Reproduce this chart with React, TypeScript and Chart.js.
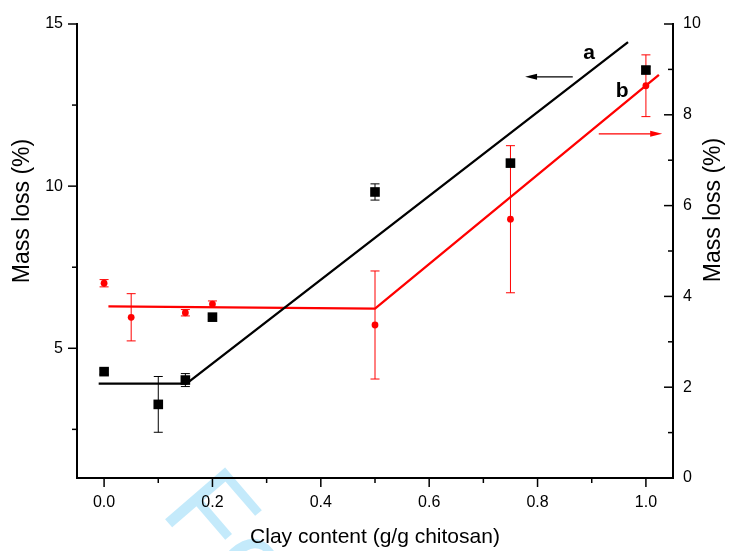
import React, { useEffect, useRef } from "react";
import { Chart, registerables } from "chart.js";

Chart.register(...registerables);

// ---- axis ticks ----
const xTickValues = [0, 0.2, 0.4, 0.6, 0.8, 1.0];
const xMinorValues = [0.1, 0.3, 0.5, 0.7, 0.9];
const leftTickValues = [5, 10, 15];
const leftMinorValues = [2.5, 7.5, 12.5];
const rightTickValues = [0, 2, 4, 6, 8, 10];
const rightMinorValues = [1, 3, 5, 7, 9];

// ---- series a (black squares, left axis) ----
const clayA = [0, 0.1, 0.15, 0.2, 0.5, 0.75, 1.0];
const massLossA = [4.28, 3.27, 4.02, 5.96, 9.82, 10.71, 13.58];
const errA = [0.08, 0.86, 0.2, 0.08, 0.25, 0.1, 0.1];

// ---- series b (red circles, right axis) ----
const clayB = [0, 0.05, 0.15, 0.2, 0.5, 0.75, 1.0];
const massLossB = [4.29, 3.54, 3.64, 3.83, 3.37, 5.7, 8.64];
const errB = [0.08, 0.52, 0.07, 0.07, 1.19, 1.62, 0.68];

// ---- fitted lines ----
const fitAx = [-0.01, 0.152, 0.967];
const fitAy = [3.91, 3.91, 14.44];
const fitBx = [0.008, 0.5, 1.024];
const fitBy = [3.78, 3.73, 8.88];

// ---- annotations (data coordinates) ----
const arrowAFrom = [0.865, 13.37];
const arrowATo = [0.777, 13.37];
const arrowBFrom = [0.913, 7.58];
const arrowBTo = [1.03, 7.58];
const labelAPos = [0.895, 14.1];
const labelBPos = [0.956, 8.52];

const FONT = "'Liberation Sans', Arial, Helvetica, sans-serif";

export default function App() {
  const ref = useRef<HTMLCanvasElement>(null);

  useEffect(() => {
    const canvas = ref.current;
    if (!canvas) return;

    const overlay = {
      id: "overlay",
      beforeDraw(chart: any) {
        const ctx = chart.ctx;
        ctx.save();
        ctx.fillStyle = "#ffffff";
        ctx.fillRect(0, 0, chart.width, chart.height);
        // watermark
        ctx.translate(159, 512);
        ctx.rotate(0.86);
        ctx.fillStyle = "#c4eafb";
        ctx.font = `115px ${FONT}`;
        ctx.textBaseline = "alphabetic";
        ctx.textAlign = "left";
        ctx.fillText("For Peer Review", 0, 0);
        ctx.restore();
      },
      beforeDatasetsDraw(chart: any) {
        const ctx = chart.ctx;
        const xs = chart.scales.x;
        const drawErr = (xv: number[], yv: number[], ev: number[], ys: any, color: string) => {
          ctx.save();
          ctx.strokeStyle = color;
          ctx.lineWidth = 1;
          xv.forEach((x, i) => {
            const px = xs.getPixelForValue(x);
            const t = ys.getPixelForValue(yv[i] + ev[i]);
            const b = ys.getPixelForValue(yv[i] - ev[i]);
            ctx.beginPath();
            ctx.moveTo(px, t);
            ctx.lineTo(px, b);
            ctx.moveTo(px - 4.5, t);
            ctx.lineTo(px + 4.5, t);
            ctx.moveTo(px - 4.5, b);
            ctx.lineTo(px + 4.5, b);
            ctx.stroke();
          });
          ctx.restore();
        };
        drawErr(clayA, massLossA, errA, chart.scales.y, "#000000");
        drawErr(clayB, massLossB, errB, chart.scales.y1, "#ff0000");
      },
      afterDraw(chart: any) {
        const ctx = chart.ctx;
        const { x, y, y1 } = chart.scales;
        const area = chart.chartArea;
        ctx.save();
        ctx.strokeStyle = "#000";
        ctx.lineWidth = 1.5;
        const seg = (x1: number, y1p: number, x2: number, y2: number) => {
          ctx.beginPath();
          ctx.moveTo(x1, y1p);
          ctx.lineTo(x2, y2);
          ctx.stroke();
        };
        xTickValues.forEach((v) => {
          const p = x.getPixelForValue(v);
          seg(p, area.bottom, p, area.bottom + 9);
        });
        xMinorValues.forEach((v) => {
          const p = x.getPixelForValue(v);
          seg(p, area.bottom, p, area.bottom + 5);
        });
        leftTickValues.forEach((v) => {
          const p = y.getPixelForValue(v);
          seg(area.left, p, area.left - 9, p);
        });
        leftMinorValues.forEach((v) => {
          const p = y.getPixelForValue(v);
          seg(area.left, p, area.left - 5, p);
        });
        rightTickValues.forEach((v) => {
          const p = y1.getPixelForValue(v);
          seg(area.right, p, area.right - 9, p);
        });
        rightMinorValues.forEach((v) => {
          const p = y1.getPixelForValue(v);
          seg(area.right, p, area.right - 5, p);
        });

        // axis titles
        ctx.fillStyle = "#000";
        ctx.textAlign = "center";
        ctx.textBaseline = "middle";
        ctx.font = `21px ${FONT}`;
        ctx.fillText("Clay content (g/g chitosan)", (area.left + area.right) / 2, 537);
        ctx.font = `23px ${FONT}`;
        ctx.save();
        ctx.translate(23, 211);
        ctx.rotate(-Math.PI / 2);
        ctx.fillText("Mass loss (%)", 0, 0);
        ctx.restore();
        ctx.save();
        ctx.translate(714, 210);
        ctx.rotate(-Math.PI / 2);
        ctx.fillText("Mass loss (%)", 0, 0);
        ctx.restore();

        // arrows
        const arrow = (from: number[], to: number[], ys: any, color: string) => {
          const fx = x.getPixelForValue(from[0]);
          const fy = ys.getPixelForValue(from[1]);
          const tx = x.getPixelForValue(to[0]);
          const ty = ys.getPixelForValue(to[1]);
          const dir = Math.sign(tx - fx);
          ctx.strokeStyle = color;
          ctx.fillStyle = color;
          ctx.lineWidth = 1.2;
          seg(fx, fy, tx - dir * 10, ty);
          ctx.beginPath();
          ctx.moveTo(tx, ty);
          ctx.lineTo(tx - dir * 12, ty - 3);
          ctx.lineTo(tx - dir * 12, ty + 3);
          ctx.closePath();
          ctx.fill();
        };
        arrow(arrowAFrom, arrowATo, y, "#000000");
        arrow(arrowBFrom, arrowBTo, y1, "#ff0000");

        ctx.fillStyle = "#000";
        ctx.font = `bold 21px ${FONT}`;
        ctx.fillText("a", x.getPixelForValue(labelAPos[0]), y.getPixelForValue(labelAPos[1]));
        ctx.fillText("b", x.getPixelForValue(labelBPos[0]), y1.getPixelForValue(labelBPos[1]));
        ctx.restore();
      },
    };

    const tickFont = { family: FONT, size: 16 };

    const chart = new Chart(canvas, {
      type: "scatter",
      data: {
        datasets: [
          {
            label: "a",
            data: clayA.map((c, i) => ({ x: c, y: massLossA[i] })),
            yAxisID: "y",
            pointStyle: "rect",
            pointRadius: 6.8,
            backgroundColor: "#000000",
            borderColor: "#000000",
            borderWidth: 0,
            showLine: false,
            order: 1,
          },
          {
            label: "b",
            data: clayB.map((c, i) => ({ x: c, y: massLossB[i] })),
            yAxisID: "y1",
            pointStyle: "circle",
            pointRadius: 3.4,
            backgroundColor: "#ff0000",
            borderColor: "#ff0000",
            borderWidth: 0,
            showLine: false,
            order: 2,
          },
          {
            label: "fit a",
            data: fitAx.map((c, i) => ({ x: c, y: fitAy[i] })),
            yAxisID: "y",
            showLine: true,
            pointRadius: 0,
            borderColor: "#000000",
            borderWidth: 2.3,
            order: 3,
          },
          {
            label: "fit b",
            data: fitBx.map((c, i) => ({ x: c, y: fitBy[i] })),
            yAxisID: "y1",
            showLine: true,
            pointRadius: 0,
            borderColor: "#ff0000",
            borderWidth: 2.3,
            order: 4,
          },
        ],
      },
      options: {
        responsive: false,
        animation: false,
        events: [],
        layout: { padding: { top: 24, left: 0, right: 0, bottom: 0 } },
        plugins: { legend: { display: false }, tooltip: { enabled: false } },
        scales: {
          x: {
            type: "linear",
            position: "bottom",
            min: -0.05,
            max: 1.05,
            grid: { display: false, drawTicks: false },
            border: { display: true, color: "#000", width: 2 },
            ticks: {
              color: "#000",
              font: tickFont,
              padding: 15,
              maxRotation: 0,
              callback: (v: any) => Number(v).toFixed(1),
            },
            afterBuildTicks: (s: any) => {
              s.ticks = xTickValues.map((v) => ({ value: v }));
            },
            afterFit: (s: any) => {
              s.height = 73;
            },
          },
          y: {
            type: "linear",
            position: "left",
            min: 1,
            max: 15,
            grid: { display: false, drawTicks: false },
            border: { display: true, color: "#000", width: 2 },
            ticks: {
              color: "#000",
              font: tickFont,
              padding: 14,
              callback: (v: any) => String(v),
            },
            afterBuildTicks: (s: any) => {
              s.ticks = leftTickValues.map((v) => ({ value: v }));
            },
            afterFit: (s: any) => {
              s.width = 77;
            },
          },
          y1: {
            type: "linear",
            position: "right",
            min: 0,
            max: 10,
            grid: { display: false, drawTicks: false },
            border: { display: true, color: "#000", width: 2 },
            ticks: {
              color: "#000",
              font: tickFont,
              padding: 10,
              callback: (v: any) => String(v),
            },
            afterBuildTicks: (s: any) => {
              s.ticks = rightTickValues.map((v) => ({ value: v }));
            },
            afterFit: (s: any) => {
              s.width = 57;
            },
          },
        },
      },
      plugins: [overlay],
    } as any);

    return () => chart.destroy();
  }, []);

  return (
    <div style={{ position: "absolute", left: 0, top: 0, width: 730, height: 551 }}>
      <canvas ref={ref} width={730} height={551} style={{ display: "block" }} />
    </div>
  );
}
